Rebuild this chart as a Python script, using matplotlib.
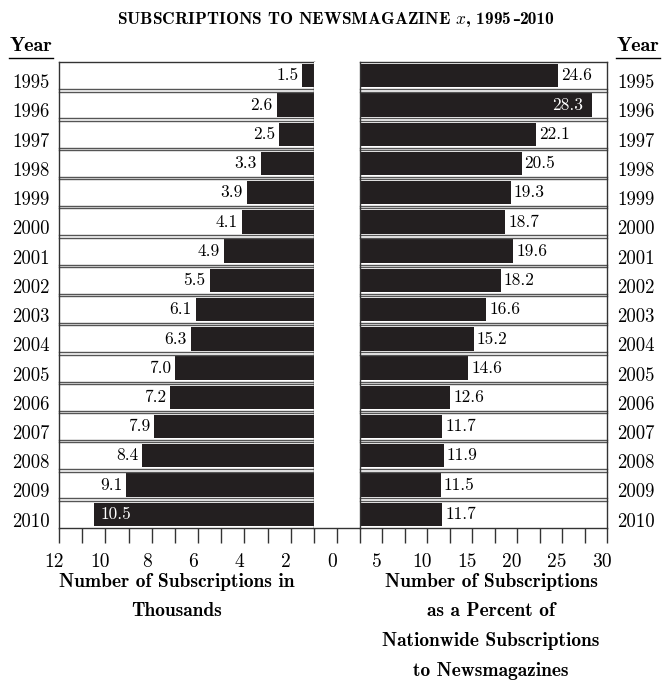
import numpy as np
import matplotlib
matplotlib.use("Agg")
import matplotlib.pyplot as plt
from matplotlib.lines import Line2D
from matplotlib.transforms import ScaledTranslation

plt.rcParams["font.family"] = ["cmr10", "DejaVu Serif"]
plt.rcParams["mathtext.fontset"] = "cm"
plt.rcParams["axes.unicode_minus"] = False

# ── data ────────────────────────────────────────────────────────────────
years = [1995, 1996, 1997, 1998, 1999, 2000, 2001, 2002,
         2003, 2004, 2005, 2006, 2007, 2008, 2009, 2010]
thousands = [1.5, 2.6, 2.5, 3.3, 3.9, 4.1, 4.9, 5.5,
             6.1, 6.3, 7.0, 7.2, 7.9, 8.4, 9.1, 10.5]
percent = [24.6, 28.3, 22.1, 20.5, 19.3, 18.7, 19.6, 18.2,
           16.6, 15.2, 14.6, 12.6, 11.7, 11.9, 11.5, 11.7]
left_ticks = [12, 11, 10, 9, 8, 7, 6, 5, 4, 3, 2, 1]
left_tick_labels = ["12", "", "10", "", "8", "", "6", "", "4", "", "2", ""]
right_ticks = [2.5, 5, 7.5, 10, 12.5, 15, 17.5, 20, 22.5, 25, 27.5, 30]
right_tick_labels = ["", "5", "", "10", "", "15", "", "20", "", "25", "", "30"]

BAR = "#231f20"
LINE = "#333333"
SEP = "#555555"
BOLD = dict(family=["cmb10", "DejaVu Serif"], weight="bold")

W, H = 669, 680
fig = plt.figure(figsize=(W / 100, H / 100), dpi=100, facecolor="white")


def fx(px):
    return px / W


def fy(py):
    return 1 - py / H


TOP, BOT = 62.3, 527.7
XL0, XL1, XR0, XR1 = 59, 314, 359.5, 607
bottom, height = fy(BOT), (BOT - TOP) / H
axL = fig.add_axes([fx(XL0), bottom, fx(XL1) - fx(XL0), height])
axM = fig.add_axes([fx(XL1), bottom, fx(XR0) - fx(XL1), height])
axR = fig.add_axes([fx(XR0), bottom, fx(XR1) - fx(XR0), height])

y = np.arange(len(years))
half = 0.46
shift_x = ScaledTranslation(-0.05, 0, fig.dpi_scale_trans)
shift_y = ScaledTranslation(0, -0.055, fig.dpi_scale_trans)

for ax in (axL, axM, axR):
    ax.set_ylim(len(years) - 1 + half, -half)
    for s in ax.spines.values():
        s.set_color(LINE)
        s.set_linewidth(1.0)
    ax.tick_params(axis="x", direction="out", length=11, width=1.0,
                   color=LINE, pad=7, labelsize=14)
    ax.tick_params(axis="y", length=0)

# ── left panel: thousands ───────────────────────────────────────────────
axL.set_xlim(12, 1)
axL.barh(y, thousands, left=0, height=0.8, color=BAR)
axL.set_xticks(left_ticks, left_tick_labels)
axL.set_yticks(y, [str(v) for v in years])
axL.tick_params(axis="y", pad=6.5, labelsize=13.5)
for i, v in enumerate(thousands):
    inside = v > 10
    axL.annotate(f"{v:.1f}", (v, i), xytext=(5 if inside else -3, 0),
                 textcoords="offset points", ha="left" if inside else "right",
                 va="center", fontsize=12.5,
                 color="white" if inside else "black")

# ── centre gap ──────────────────────────────────────────────────────────
axM.set_xlim(-1, 1)
axM.set_xticks([0], ["0"])
axM.set_yticks([])
for side in ("top", "left", "right"):
    axM.spines[side].set_visible(False)

# ── right panel: percent ────────────────────────────────────────────────
axR.set_xlim(2.5, 30)
axR.barh(y, percent, left=0, height=0.8, color=BAR)
axR.set_xticks(right_ticks, right_tick_labels)
axR.yaxis.tick_right()
axR.set_yticks(y, [str(v) for v in years])
axR.tick_params(axis="y", pad=7.5, labelsize=13.5)
for i, v in enumerate(percent):
    inside = v > 27
    axR.annotate(f"{v:.1f}", (v, i), xytext=(-6 if inside else 2, 0),
                 textcoords="offset points", ha="right" if inside else "left",
                 va="center", fontsize=12.5,
                 color="white" if inside else "black")

# row boxes (double separators between rows)
for ax in (axL, axR):
    for i in y[:-1]:
        ax.axhline(i + half, color=SEP, lw=1.0, clip_on=False)
        ax.axhline(i + 1 - half, color=SEP, lw=1.0, clip_on=False)

for ax in (axL, axM, axR):
    for t in ax.xaxis.get_major_ticks():
        t.label1.set_transform(t.label1.get_transform() + shift_x)
for ax in (axL, axR):
    for t in ax.yaxis.get_major_ticks():
        t.label1.set_transform(t.label1.get_transform() + shift_y)
        t.label2.set_transform(t.label2.get_transform() + shift_y)

# ── titles / labels ─────────────────────────────────────────────────────
# cmb10 has no usable en dash, so the dash is set in DejaVu Serif Bold
TY = fy(24)
t1 = fig.text(fx(117), TY, "SUBSCRIPTIONS TO NEWSMAGAZINE $x$, 1995",
              ha="left", va="baseline", fontsize=12.5, **BOLD)
t2 = axL.annotate("\u2013", xy=(1, TY), xycoords=(t1, "figure fraction"),
                  ha="left", va="baseline", fontsize=11,
                  family="DejaVu Serif", weight="bold", annotation_clip=False)
axL.annotate("2010", xy=(1, TY), xycoords=(t2, "figure fraction"),
             ha="left", va="baseline", fontsize=12.5,
             annotation_clip=False, **BOLD)

for cx in (31, 638):
    fig.text(fx(cx), fy(51), "Year", ha="center", va="baseline",
             fontsize=14.5, **BOLD)
    fig.add_artist(Line2D([fx(cx - 22), fx(cx + 22)], [fy(57.5), fy(57.5)],
                          color="black", lw=1.0))

lab_left = ["Number of Subscriptions in", "Thousands"]
lab_right = ["Number of Subscriptions", "as a Percent of",
             "Nationwide Subscriptions", "to Newsmagazines"]
for k, s in enumerate(lab_left):
    fig.text(fx(177), fy(582 + 29.5 * k), s, ha="center", va="center",
             fontsize=14, **BOLD)
for k, s in enumerate(lab_right):
    fig.text(fx(491), fy(582 + 29.5 * k), s, ha="center", va="center",
             fontsize=14, **BOLD)

fig.savefig("out.png", dpi=100, facecolor="white")
